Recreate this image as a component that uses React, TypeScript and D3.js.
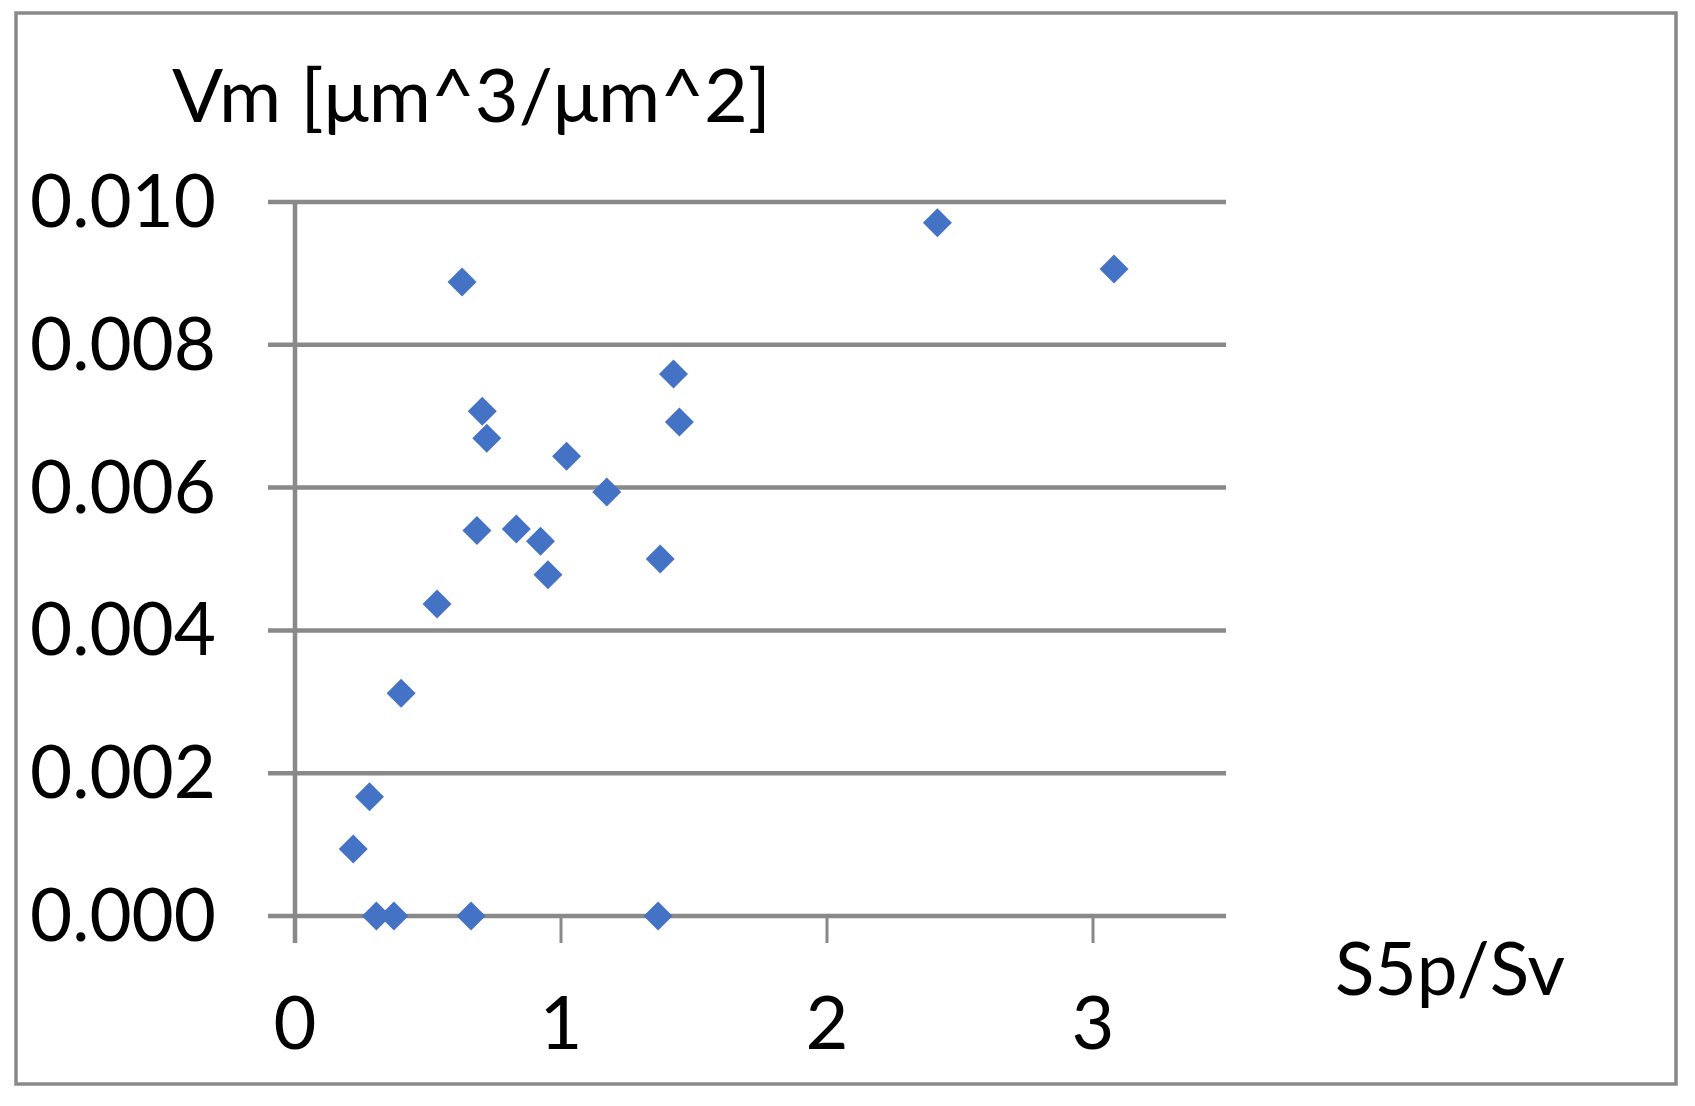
import React from "react";
import * as d3 from "d3";

// S5p/Sv vs Vm scatter values
const xValues = [
  0.219, 0.28, 0.306, 0.372, 0.399, 0.534, 0.628, 0.662, 0.684, 0.704, 0.721,
  0.832, 0.923, 0.951, 1.021, 1.172, 1.365, 1.373, 1.423, 1.445, 2.415, 3.079,
];
const yValues = [
  0.00094, 0.00167, 0, 0, 0.00312, 0.00437, 0.00888, 0, 0.0054, 0.00707,
  0.00669, 0.00542, 0.00525, 0.00478, 0.00644, 0.00594, 0, 0.005, 0.00759,
  0.00692, 0.00971, 0.00906,
];
const xTicks = [0, 1, 2, 3];
const yTicks = [0, 0.002, 0.004, 0.006, 0.008, 0.01];
const yTitle = "Vm [μm^3/μm^2]";
const xTitle = "S5p/Sv";

const W = 1695;
const H = 1106;
const GRID = "#898989";
const DOT = "#4472C4";
const FONT = "Lato, 'Liberation Sans', sans-serif";

export default function App() {
  const x = d3.scaleLinear().domain([0, 3.5]).range([295, 1226]);
  const y = d3.scaleLinear().domain([0, 0.01]).range([916, 202]);
  const fmt = d3.format(".3f");
  const diamond = d3.symbol(d3.symbolSquare, 420)();
  const points = xValues.map((v, i) => ({ x: v, y: yValues[i] }));

  return (
    <svg
      width={W}
      height={H}
      style={{ position: "absolute", left: 0, top: 0, background: "#fff" }}
    >
      <rect x={16} y={13} width={1660} height={1071} fill="#fff" stroke={GRID} strokeWidth={3.5} />

      {/* horizontal gridlines, with the tick stub left of the axis */}
      {yTicks.map((t) => (
        <line key={"g" + t} x1={x(0) - 27} x2={x(3.5)} y1={y(t)} y2={y(t)} stroke={GRID} strokeWidth={4.5} />
      ))}
      {/* vertical axis */}
      <line x1={x(0)} x2={x(0)} y1={y(0.01)} y2={y(0) + 27} stroke={GRID} strokeWidth={4.5} />
      {xTicks.slice(1).map((t) => (
        <line key={"t" + t} x1={x(t)} x2={x(t)} y1={y(0)} y2={y(0) + 27} stroke={GRID} strokeWidth={3} />
      ))}

      {yTicks.map((t) => (
        <text key={"yl" + t} x={216} y={y(t) + 25} textAnchor="end" fontFamily={FONT} fontSize={74} fill="#000" textLength={186} lengthAdjust="spacingAndGlyphs">
          {fmt(t)}
        </text>
      ))}
      {xTicks.map((t) => (
        <text key={"xl" + t} x={x(t)} y={1049} textAnchor="middle" fontFamily={FONT} fontSize={74} fill="#000">
          {t}
        </text>
      ))}

      <text x={172} y={122} fontFamily={FONT} fontSize={74} fill="#000" textLength={599} lengthAdjust="spacingAndGlyphs">
        {yTitle}
      </text>
      <text x={1335} y={995} fontFamily={FONT} fontSize={74} fill="#000" textLength={230} lengthAdjust="spacingAndGlyphs">
        {xTitle}
      </text>

      {points.map((d, i) => (
        <path
          key={i}
          d={diamond || ""}
          transform={`translate(${x(d.x)},${y(d.y)}) rotate(45)`}
          fill={DOT}
        />
      ))}
    </svg>
  );
}
